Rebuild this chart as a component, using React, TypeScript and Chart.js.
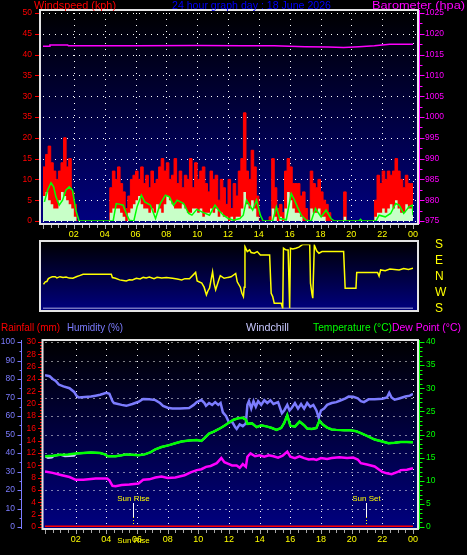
import React, { useEffect, useLayoutEffect, useRef } from "react";
import { Chart, registerables } from "chart.js";

Chart.register(...registerables);

const FONT = '"Liberation Sans", Arial, sans-serif';

// ------------------------------------------------------------------ data
const graphTitle = "24 hour graph day : 18 June 2026";
const hourTicks = [2, 4, 6, 8, 10, 12, 14, 16, 18, 20, 22, 24];

// wind speed (kph), one value per 10-minute sample from 00:00
const windSampleMinutes = 10;
const windGust = [
  10, 13, 16, 18, 14, 12,
  10, 12, 14, 20, 13, 15,
  7, 4, 0, 0, 0, 0,
  0, 0, 0, 0, 0, 0,
  0, 0, 0, 8, 12, 10,
  13, 9, 7, 3, 6, 10,
  11, 12, 10, 13, 9, 11,
  8, 12, 9, 10, 13, 15,
  12, 14, 10, 11, 15, 9,
  12, 8, 11, 10, 15, 8,
  14, 10, 12, 13, 9, 7,
  12, 10, 11, 5, 10, 8,
  4, 10, 3, 9, 6, 12,
  15, 26, 12, 10, 17, 13,
  6, 0, 0, 0, 0, 1,
  15, 8, 3, 4, 2, 12,
  15, 13, 9, 9, 9, 6,
  7, 3, 0, 12, 9, 8,
  10, 7, 5, 4, 2, 0,
  0, 0, 0, 0, 7, 0,
  0, 0, 0, 0, 0, 0,
  0, 0, 0, 0, 5, 11,
  9, 12, 10, 12, 11, 12,
  15, 12, 10, 8, 11, 9,
];
const windAverage = [
  3, 6, 7, 5, 4, 3,
  3, 5, 7, 6, 5, 4,
  3, 1, 0, 0, 0, 0,
  0, 0, 0, 0, 0, 0,
  0, 0, 0, 2, 3, 3,
  3, 2, 1, 0, 2, 3,
  4, 5, 6, 4, 3, 3,
  2, 3, 2, 4, 3, 2,
  4, 6, 5, 4, 3, 3,
  3, 4, 3, 2, 2, 3,
  3, 2, 3, 1, 2, 2,
  3, 2, 3, 1, 2, 1,
  1, 0, 1, 0, 1, 1,
  3, 7, 4, 3, 5, 3,
  1, 0, 0, 0, 0, 0,
  3, 1, 0, 1, 0, 3,
  7, 5, 3, 2, 2, 1,
  0, 0, 0, 3, 2, 2,
  3, 1, 1, 0, 0, 0,
  0, 0, 0, 0, 1, 0,
  0, 0, 0, 0, 0, 0,
  0, 0, 0, 0, 1, 2,
  2, 3, 2, 3, 4, 3,
  5, 3, 2, 2, 4, 3,
];
// [hour, kph]
const windAverageLine: [number, number][] = [
  [0.09, 4.6], [0.3, 7.4], [0.52, 9.2], [0.69, 8.2], [0.84, 5.8], [1.05, 3.8], [1.27, 5], [1.48, 7.4],
  [1.7, 8.2], [1.91, 7.4], [2.13, 2.6], [2.34, 0], [4.55, 0], [4.75, 4.2], [5.0, 4.0], [5.2, 3.8],
  [5.4, 1.8], [5.6, 0.2], [5.89, 0], [6.1, 3.4], [6.38, 6.2], [6.6, 4.6], [6.97, 3.8], [7.3, 0.6],
  [7.61, 4.2], [7.94, 6.2], [8.2, 5.8], [8.47, 3.8], [8.7, 5], [9.12, 4.2], [9.45, 1.8], [9.66, 1.4],
  [9.98, 2.8], [10.3, 2.2], [10.8, 1.4], [11.16, 3.8], [11.4, 2.6], [11.7, 1.4], [12.02, 0.6],
  [12.35, 0.2], [12.77, 0.6], [12.99, 1.4], [13.2, 5], [13.4, 3.8], [13.6, 2.6], [13.85, 5],
  [14.1, 1.4], [14.28, 0], [14.9, 0], [15.14, 3.4], [15.35, 0.6], [15.78, 0.3], [16.1, 6.6],
  [16.32, 5], [16.5, 3.4], [16.75, 1.4], [17.07, 0.2], [17.4, 0], [17.67, 3], [18.04, 1],
  [18.36, 2.6], [18.68, 0.6], [18.9, 0], [20.5, 0], [20.6, 0.4], [20.7, 0], [21.6, 0], [21.8, 1.4],
  [22.2, 1], [22.55, 1.8], [22.88, 4.2], [23.1, 3.8], [23.4, 1.8], [23.74, 3.4], [23.95, 3.8], [24, 1.4],
];
const speedTicks = [0, 5, 10, 15, 20, 25, 30, 35, 40, 45, 50];
const speedTickLabels = ["0", "5", "10", "15", "20", "35", "30", "35", "40", "45", "50"];

// barometer (hpa) [hour, value]
const barometer: [number, number][] = [
  [0, 1017.0], [0.4, 1017.0], [0.45, 1017.3], [1.6, 1017.3], [1.65, 1017.1], [6, 1017.1],
  [10, 1017.2], [13, 1017.1], [15, 1017.1], [17, 1016.9], [18.5, 1016.8], [19.5, 1016.7],
  [20.5, 1016.9], [21.5, 1017.1], [22, 1017.3], [22.5, 1017.5], [24, 1017.5],
];
const baroTicks = [975, 980, 985, 990, 995, 1000, 1005, 1010, 1015, 1020, 1025];

// wind direction, degrees (N = 0, E = 90, S = +/-180, W = -90) [hour, deg]
const windDirection: [number, number][] = [
  [0.03, -44], [0.15, -30], [0.25, -28], [0.35, -12], [0.46, -6], [0.6, -2], [0.79, -1], [0.9, -8],
  [1.1, -1], [1.3, -6], [1.5, -3], [1.7, -9], [1.94, -10], [2.2, 0], [2.37, 5], [2.6, 12], [4.43, 12],
  [4.5, -6], [4.7, -10], [4.97, -19], [5.2, -22], [5.4, -25], [5.6, -18], [5.8, -20], [6.05, -10],
  [6.3, -14], [6.5, -5], [6.7, -8], [6.9, -3], [7.2, -12], [7.4, -4], [7.7, -8], [8.0, -6], [8.4, -10],
  [8.7, -14], [9.0, -19], [9.2, -12], [9.5, -13], [9.9, 23], [10.0, -25], [10.3, -37], [10.45, -60],
  [10.6, -103], [10.7, -80], [10.8, -66], [11.0, 27], [11.1, -40], [11.2, -75], [11.4, -20], [11.5, 5],
  [11.75, -10], [12.0, -5], [12.2, -2], [12.5, 17], [12.6, -30], [12.8, -60], [12.9, -94], [13.0, -113],
  [13.05, -60], [13.1, 168], [13.25, 140], [13.4, 150], [13.5, 135], [13.7, 131], [13.9, 140], [14.1, 121],
  [14.7, 121], [14.8, -94], [14.9, -113], [15.0, -150], [15.45, -150], [15.55, -179], [15.6, 159],
  [15.75, 150], [15.9, 149], [16.0, -179], [16.05, 159], [16.2, 155], [16.4, 159], [16.6, 165],
  [16.85, 180], [17.3, 180], [17.35, -37], [17.45, -100], [17.5, -122], [17.6, 176], [17.75, 145],
  [17.9, 131], [18.1, 140], [18.4, 140], [19.5, 140], [19.6, -66], [20.3, -66], [20.35, 23], [21.7, 23],
  [21.8, 2], [21.9, 37], [22.2, 33], [22.5, 42], [22.8, 40], [23.1, 37], [23.4, 45], [23.7, 40], [24, 46],
];
const directionBase: [number, number][] = [[0, -180], [24, -180]];
const dirTickValues = [-180, -90, 0, 90, 180];
const dirTickLabels = ["S", "W", "N", "E", "S"];

// humidity (%) [hour, value]
const humidity: [number, number][] = [
  [0, 82], [0.3, 81.5], [0.5, 80], [0.7, 79], [0.9, 77], [1.2, 76], [1.6, 75], [1.9, 73], [2.05, 71],
  [2.2, 70], [2.6, 70.3], [3.0, 70.5], [3.3, 71], [3.6, 71.5], [4.0, 72.5], [4.2, 72], [4.4, 68],
  [4.5, 67], [5.0, 66], [5.3, 65.5], [5.7, 66.5], [6.1, 67.7], [6.4, 69.2], [6.8, 69], [7.2, 68.6],
  [7.5, 67], [7.7, 65.5], [8.0, 64.5], [8.3, 64], [8.8, 64], [9.4, 64.3], [9.7, 66], [9.9, 67.5],
  [10.2, 68.6], [10.4, 67], [10.5, 65.5], [10.7, 67], [10.9, 66], [11.1, 67.5], [11.3, 66],
  [11.45, 67], [11.6, 62], [11.8, 60], [12.0, 56.5], [12.2, 57], [12.4, 54], [12.5, 53], [12.7, 55.5],
  [12.9, 54.5], [13.1, 56], [13.2, 66], [13.3, 68], [13.45, 64], [13.6, 68], [13.75, 65], [13.9, 68],
  [14.1, 66], [14.3, 68.5], [14.5, 67], [14.7, 68.5], [14.9, 66.5], [15.2, 67.5], [15.45, 61.5],
  [15.6, 63], [15.8, 66], [15.95, 63], [16.1, 64.5], [16.3, 67], [16.5, 64], [16.7, 66.5], [16.9, 64],
  [17.1, 67], [17.3, 65], [17.5, 66], [17.7, 63], [17.85, 59], [18.0, 63], [18.2, 64], [18.4, 66],
  [18.7, 67], [19.0, 67.5], [19.3, 68.5], [19.6, 69.5], [19.8, 70.5], [20.1, 70.4], [20.4, 69.5],
  [20.6, 68], [20.8, 67.5], [21.1, 69], [21.5, 69], [22.0, 69.3], [22.3, 70], [22.45, 72.5], [22.6, 70],
  [22.8, 68.8], [23.1, 69.5], [23.5, 70.5], [23.8, 71], [24, 72],
];
// temperature (C) [hour, value]
const temperature: [number, number][] = [
  [0, 15.3], [0.5, 15.4], [1, 15.6], [1.5, 15.7], [2, 15.9], [2.5, 16.0], [3, 16.1], [3.6, 16.0],
  [3.9, 15.7], [4.1, 15.3], [4.6, 15.3], [5.0, 15.5], [5.3, 15.7], [5.7, 15.6], [6.1, 15.5], [6.5, 15.7],
  [6.9, 16.2], [7.2, 16.8], [7.6, 17.3], [8.1, 17.7], [8.5, 18.1], [8.9, 18.5], [9.4, 18.7], [9.9, 18.8],
  [10.2, 18.6], [10.4, 19.2], [10.7, 20.2], [11.0, 20.6], [11.4, 21.3], [11.7, 21.9], [12.0, 22.6],
  [12.3, 23.2], [12.6, 23.5], [12.9, 23.6], [13.1, 23.2], [13.2, 22.3], [13.5, 22.4], [13.8, 21.6],
  [14.1, 22.0], [14.5, 21.7], [14.8, 21.4], [15.1, 21.0], [15.4, 21.4], [15.6, 22.5], [15.8, 24.2],
  [16.0, 21.9], [16.3, 21.7], [16.6, 22.8], [16.9, 22.0], [17.1, 21.3], [17.4, 21.2], [17.7, 21.4],
  [17.9, 23.0], [18.1, 22.2], [18.4, 21.5], [18.7, 21.1], [19.0, 21.0], [19.5, 20.9], [19.9, 20.9],
  [20.3, 20.7], [20.6, 20.3], [21.0, 19.7], [21.5, 18.9], [22.0, 18.5], [22.4, 18.1], [22.8, 18.2],
  [23.2, 18.4], [23.6, 18.4], [24, 18.3],
];
// windchill (C) [hour, value]
const windchill: [number, number][] = [
  [0, 15.3], [0.2, 14.9], [0.45, 15.0], [0.6, 15.4], [1, 15.6], [1.3, 15.3], [1.9, 15.4], [2.05, 15.9],
  [2.5, 16.0], [3, 16.1], [3.6, 16.0], [3.9, 15.7], [4.1, 15.3], [4.6, 15.3], [5.0, 15.5], [5.3, 15.7],
  [5.7, 15.6], [6.1, 15.5], [6.5, 15.7], [6.9, 16.2], [7.2, 16.8], [7.6, 17.3], [8.1, 17.7], [8.5, 18.1],
  [8.9, 18.5], [9.4, 18.7], [9.9, 18.8], [10.2, 18.6], [10.4, 19.2], [10.7, 20.2], [11.0, 20.6],
  [11.4, 21.3], [11.7, 21.9], [12.0, 22.6], [12.3, 23.2], [12.6, 23.5], [12.9, 23.6], [13.1, 23.2],
  [13.2, 22.3], [13.5, 22.4], [13.8, 21.6], [14.1, 22.0], [14.5, 21.7], [14.8, 21.4], [15.1, 21.0],
  [15.4, 21.4], [15.6, 22.5], [15.8, 24.2], [16.0, 21.9], [16.3, 21.7], [16.6, 22.8], [16.9, 22.0],
  [17.1, 21.3], [17.4, 21.2], [17.7, 21.4], [17.9, 23.0], [18.1, 22.2], [18.4, 21.5], [18.7, 21.1],
  [19.0, 21.0], [19.5, 20.9], [19.9, 20.9], [20.3, 20.7], [20.6, 20.3], [21.0, 19.7], [21.5, 18.9],
  [22.0, 18.5], [22.4, 18.1], [22.8, 18.2], [23.2, 18.4], [23.6, 18.4], [24, 18.3],
];
// dew point (C) [hour, value]
const dewPoint: [number, number][] = [
  [0, 12.0], [0.5, 11.7], [1.1, 11.2], [1.6, 10.8], [2.0, 10.2], [2.5, 10.2], [3.0, 10.4], [3.3, 10.5],
  [4.05, 10.5], [4.2, 10.1], [4.4, 8.9], [4.6, 8.8], [5.0, 9.1], [5.5, 9.2], [6.1, 9.4], [6.4, 10.2],
  [6.8, 10.3], [7.2, 10.7], [7.6, 10.9], [8.0, 10.6], [8.5, 10.7], [9.1, 11.2], [9.5, 11.8], [9.9, 12.3],
  [10.2, 12.5], [10.5, 13.0], [10.8, 13.2], [11.2, 13.8], [11.5, 14.9], [11.7, 14.0], [12.0, 13.6],
  [12.2, 13.3], [12.5, 13.3], [12.7, 12.8], [12.9, 13.6], [13.1, 13.0], [13.2, 15.2], [13.4, 15.9],
  [13.7, 15.3], [14.0, 15.5], [14.3, 15.2], [14.6, 15.5], [14.9, 15.3], [15.2, 15.0], [15.5, 15.4],
  [15.8, 16.3], [16.0, 15.2], [16.3, 14.9], [16.6, 15.3], [16.9, 14.9], [17.2, 14.6], [17.5, 14.7],
  [17.7, 14.5], [18.0, 14.9], [18.4, 14.7], [18.7, 14.9], [19.2, 15.1], [19.7, 14.9], [20.1, 15.0],
  [20.4, 14.6], [20.6, 13.8], [21.0, 13.5], [21.5, 13.1], [21.8, 12.4], [22.0, 11.9], [22.3, 11.6],
  [22.6, 11.4], [23.0, 11.9], [23.2, 12.3], [23.6, 12.4], [24, 12.7],
];
// rainfall (mm) [hour, value]
const rainfall: [number, number][] = [[0, 0], [24, 0]];

const humidityTicks = [0, 10, 20, 30, 40, 50, 60, 70, 80, 90, 100];
const rainTicks = [0, 2, 4, 6, 8, 10, 12, 14, 16, 18, 20, 22, 24, 26, 28, 30];
const tempTicks = [0, 5, 10, 15, 20, 25, 30, 35, 40];

const sunRiseHour = 5.77;
const sunSetHour = 20.96;

// ------------------------------------------------------------------ helpers
const pts = (a: [number, number][]) => a.map(([x, y]) => ({ x, y }));
const stepPts = (vals: number[]) => {
  const out = vals.map((v, i) => ({ x: (i * windSampleMinutes) / 60, y: v }));
  out.push({ x: 24, y: vals[vals.length - 1] });
  return out;
};
const hh = (v: number) => String(Math.round(v) % 24).padStart(2, "0");
const plain = (v: any) => String(Number(v));

type AxisMarks = {
  scale: string; x: number; dir: number; color: string;
  major: number[]; majorLen: number; minorStep?: number; minorLen?: number; line?: boolean;
};
type FrameCfg = {
  id: string;
  frame: [number, number, number, number];
  gridScale?: string;
  gridValues?: number[];
  gridHours?: number[];
  axes?: AxisMarks[];
  xTickStep?: number;
  extra?: (chart: any) => void;
};

function framePlugin(cfg: FrameCfg) {
  const box = (chart: any) => {
    const a = chart.chartArea;
    return { L: a.left - cfg.frame[0], T: a.top - cfg.frame[1], R: a.right + cfg.frame[2], B: a.bottom + cfg.frame[3] };
  };
  return {
    id: cfg.id,
    beforeDraw(chart: any) {
      const ctx = chart.ctx;
      const { L, T, R, B } = box(chart);
      ctx.save();
      const g = ctx.createLinearGradient(0, T, 0, B);
      g.addColorStop(0, "#000000");
      g.addColorStop(1, "#000080");
      ctx.fillStyle = g;
      ctx.fillRect(L, T, R - L, B - T);
      ctx.strokeStyle = "#ffffff";
      ctx.lineWidth = 1;
      ctx.setLineDash([1, 5]);
      if (cfg.gridScale && cfg.gridValues) {
        const s = chart.scales[cfg.gridScale];
        for (const v of cfg.gridValues) {
          const y = Math.round(s.getPixelForValue(v)) + 0.5;
          ctx.beginPath(); ctx.moveTo(L + 3, y); ctx.lineTo(R - 2, y); ctx.stroke();
        }
      }
      if (cfg.gridHours) {
        const s = chart.scales.x;
        for (const h of cfg.gridHours) {
          const x = Math.round(s.getPixelForValue(h)) + 0.5;
          ctx.beginPath(); ctx.moveTo(x, T + 3); ctx.lineTo(x, B - 2); ctx.stroke();
        }
      }
      ctx.restore();
    },
    afterDraw(chart: any) {
      const ctx = chart.ctx;
      const { L, T, R, B } = box(chart);
      ctx.save();
      ctx.setLineDash([]);
      ctx.lineWidth = 1;
      for (const ax of cfg.axes || []) {
        const s = chart.scales[ax.scale];
        ctx.strokeStyle = ax.color;
        if (ax.line) {
          ctx.beginPath(); ctx.moveTo(ax.x, T); ctx.lineTo(ax.x, B); ctx.stroke();
        }
        const tick = (v: number, len: number) => {
          const y = Math.round(s.getPixelForValue(v)) + 0.5;
          ctx.beginPath(); ctx.moveTo(ax.x, y); ctx.lineTo(ax.x + ax.dir * len, y); ctx.stroke();
        };
        if (ax.minorStep) {
          for (let v = s.min; v <= s.max + 1e-9; v += ax.minorStep) tick(v, ax.minorLen || 2);
        }
        for (const v of ax.major) tick(v, ax.majorLen);
      }
      if (cfg.xTickStep) {
        const s = chart.scales.x;
        ctx.strokeStyle = "#a8a8a8";
        for (let h = 0; h <= 24 + 1e-9; h += cfg.xTickStep) {
          const x = Math.round(s.getPixelForValue(h)) + 0.5;
          const major = Math.abs(h / 2 - Math.round(h / 2)) < 1e-6;
          ctx.beginPath(); ctx.moveTo(x, B + 1); ctx.lineTo(x, B + (major ? 5 : 4)); ctx.stroke();
        }
      }
      ctx.strokeStyle = "#e4e4e4";
      ctx.lineWidth = 2;
      ctx.strokeRect(L, T, R - L, B - T);
      if (cfg.extra) cfg.extra(chart);
      ctx.restore();
    },
  };
}

const tickFont = { family: FONT, size: 8.5 };
const hourFont = { family: FONT, size: 9 };
// invisible tick marks: only used to set the gap between axis and labels
const gap = (len: number) => ({ display: false, drawOnChartArea: false, drawTicks: true, tickLength: len, color: "rgba(0,0,0,0)" });

function hourAxis(height: number, tickLen: number) {
  return {
    type: "linear",
    min: 0,
    max: 24,
    afterBuildTicks: (s: any) => { s.ticks = hourTicks.map((v) => ({ value: v })); },
    afterFit: (s: any) => { s.height = height; },
    ticks: { color: "#ffff00", font: hourFont, padding: 2, autoSkip: false, maxRotation: 0, callback: (v: any) => hh(Number(v)) },
    grid: gap(tickLen),
    border: { display: false },
  };
}

// ------------------------------------------------------------------ chart configs
function windConfig(): any {
  return {
    type: "line",
    data: {
      datasets: [
        { label: "Barometer", data: pts(barometer), yAxisID: "y1", borderColor: "#ff00ff", borderWidth: 1.5, pointRadius: 0, fill: false },
        { label: "Average", data: pts(windAverageLine), yAxisID: "y", borderColor: "#00ff00", borderWidth: 1.5, pointRadius: 0, fill: false },
        { label: "Wind", data: stepPts(windAverage), yAxisID: "y", stepped: "after", borderColor: "#c8ffc8", backgroundColor: "#c8ffc8", borderWidth: 0, pointRadius: 0, fill: "origin" },
        { label: "Gust", data: stepPts(windGust), yAxisID: "y", stepped: "after", borderColor: "#ff0000", backgroundColor: "#ff0000", borderWidth: 1, pointRadius: 0, fill: "origin" },
      ],
    },
    options: {
      animation: false,
      responsive: false,
      events: [],
      layout: { padding: { top: 13, left: 0, right: 0, bottom: 0 } },
      plugins: { legend: { display: false }, tooltip: { enabled: false } },
      scales: {
        x: hourAxis(24, 6),
        y: {
          position: "left", min: 0, max: 50,
          afterBuildTicks: (s: any) => { s.ticks = speedTicks.map((v) => ({ value: v })); },
          afterFit: (s: any) => { s.width = 43; },
          ticks: { color: "#ff0000", font: tickFont, padding: 2, autoSkip: false,
            callback: (v: any) => speedTickLabels[speedTicks.indexOf(Number(v))] },
          grid: gap(9), border: { display: false },
        },
        y1: {
          position: "right", min: 975, max: 1025,
          afterBuildTicks: (s: any) => { s.ticks = baroTicks.map((v) => ({ value: v })); },
          afterFit: (s: any) => { s.width = 54; },
          ticks: { color: "#ff00ff", font: tickFont, padding: 2, autoSkip: false, callback: plain },
          grid: gap(10), border: { display: false },
        },
      },
    },
    plugins: [
      framePlugin({
        id: "windFrame",
        frame: [3, 3, 5, 3],
        gridScale: "y",
        gridValues: speedTicks,
        gridHours: hourTicks,
        xTickStep: 0.5,
        axes: [
          { scale: "y", x: 39, dir: -1, color: "#ff0000", major: speedTicks, majorLen: 4 },
          { scale: "y1", x: 419.5, dir: 1, color: "#ff00ff", major: baroTicks, majorLen: 5, minorStep: 2.5, minorLen: 3, line: true },
        ],
      }),
    ],
  };
}

function directionConfig(): any {
  return {
    type: "line",
    data: {
      datasets: [
        { label: "Direction", data: pts(windDirection), borderColor: "#ffff00", borderWidth: 1.5, pointRadius: 0, fill: false },
        { label: "Base", data: pts(directionBase), borderColor: "#e8e8ff", borderWidth: 1.5, pointRadius: 0, fill: false },
      ],
    },
    options: {
      animation: false,
      responsive: false,
      events: [],
      layout: { padding: { top: 14.5, left: 43, right: 0, bottom: 11.5 } },
      plugins: { legend: { display: false }, tooltip: { enabled: false } },
      scales: {
        x: { type: "linear", min: 0, max: 24, display: false },
        y: {
          position: "right", min: -180, max: 180,
          afterBuildTicks: (s: any) => { s.ticks = dirTickValues.map((v) => ({ value: v })); },
          afterFit: (s: any) => { s.width = 54; },
          ticks: { color: "#ffff00", font: { family: FONT, size: 12 }, padding: 2, autoSkip: false,
            callback: (v: any) => dirTickLabels[dirTickValues.indexOf(Number(v))] },
          grid: gap(20), border: { display: false },
        },
      },
    },
    plugins: [framePlugin({ id: "dirFrame", frame: [3, 3.5, 5, 2.5] })],
  };
}

function climateConfig(): any {
  const sunMarks = (chart: any) => {
    const ctx = chart.ctx;
    const s = chart.scales.x;
    const a = chart.chartArea;
    ctx.font = `8px ${FONT}`;
    ctx.textAlign = "center";
    ctx.textBaseline = "alphabetic";
    const marks: [number, string, boolean][] = [[sunRiseHour, "Sun Rise", true], [sunSetHour, "Sun Set", false]];
    for (const [h, name, dup] of marks) {
      const x = Math.round(s.getPixelForValue(h)) + 0.5;
      ctx.fillStyle = "#ffff00";
      ctx.fillText(name, x, a.bottom - 26);
      if (dup) ctx.fillText(name, x, a.bottom + 15.5);
      ctx.lineWidth = 1;
      ctx.setLineDash([]);
      ctx.strokeStyle = "#ffffff";
      ctx.beginPath(); ctx.moveTo(x, a.bottom - 24); ctx.lineTo(x, a.bottom - 10); ctx.stroke();
      ctx.strokeStyle = "#ffff00";
      ctx.setLineDash([1, 2]);
      ctx.beginPath(); ctx.moveTo(x, a.bottom - 10); ctx.lineTo(x, a.bottom - 2); ctx.stroke();
      ctx.setLineDash([]);
    }
  };
  return {
    type: "line",
    data: {
      datasets: [
        { label: "Rainfall", data: pts(rainfall), yAxisID: "yR", borderColor: "#ff0000", borderWidth: 3, pointRadius: 0, fill: false },
        { label: "Dew Point", data: pts(dewPoint), yAxisID: "yT", borderColor: "#ff00ff", borderWidth: 2.5, pointRadius: 0, fill: false },
        { label: "Temperature", data: pts(temperature), yAxisID: "yT", borderColor: "#00ff00", borderWidth: 2.5, pointRadius: 0, fill: false },
        { label: "Windchill", data: pts(windchill), yAxisID: "yT", borderColor: "#c8c8ff", borderWidth: 2, pointRadius: 0, fill: false },
        { label: "Humidity", data: pts(humidity), yAxisID: "yH", borderColor: "#7c7cff", borderWidth: 2.5, pointRadius: 0, fill: false },
      ],
    },
    options: {
      animation: false,
      responsive: false,
      events: [],
      layout: { padding: { top: 24, left: 0, right: 0, bottom: 0 } },
      plugins: { legend: { display: false }, tooltip: { enabled: false } },
      scales: {
        x: hourAxis(28, 5),
        yH: {
          position: "left", weight: 1, min: 0, max: 100,
          afterBuildTicks: (s: any) => { s.ticks = humidityTicks.map((v) => ({ value: v })); },
          afterFit: (s: any) => { s.width = 22; },
          ticks: { color: "#7c7cff", font: tickFont, padding: 2, autoSkip: false, callback: plain },
          grid: gap(5), border: { display: false },
        },
        yR: {
          position: "left", weight: 0, min: 0, max: 30,
          afterBuildTicks: (s: any) => { s.ticks = rainTicks.map((v) => ({ value: v })); },
          afterFit: (s: any) => { s.width = 23; },
          ticks: { color: "#ff0000", font: tickFont, padding: 2, autoSkip: false, callback: plain },
          grid: gap(7), border: { display: false },
        },
        yT: {
          position: "right", min: 0, max: 40,
          afterBuildTicks: (s: any) => { s.ticks = tempTicks.map((v) => ({ value: v })); },
          afterFit: (s: any) => { s.width = 54; },
          ticks: { color: "#00ff00", font: tickFont, padding: 2, autoSkip: false, callback: plain },
          grid: gap(11), border: { display: false },
        },
      },
    },
    plugins: [
      framePlugin({
        id: "climateFrame",
        frame: [2.5, 2, 5, 2],
        gridScale: "yH",
        gridValues: humidityTicks.slice(1),
        gridHours: hourTicks,
        xTickStep: 0.5,
        axes: [
          { scale: "yH", x: 21.5, dir: -1, color: "#7c7cff", major: humidityTicks, majorLen: 4, minorStep: 5, minorLen: 2, line: true },
          { scale: "yR", x: 42, dir: -1, color: "#ff0000", major: rainTicks, majorLen: 4, minorStep: 0.5, minorLen: 2 },
          { scale: "yT", x: 419.5, dir: 1, color: "#00ff00", major: tempTicks, majorLen: 5, minorStep: 1, minorLen: 3, line: true },
        ],
        extra: sunMarks,
      }),
    ],
  };
}

// ------------------------------------------------------------------ components
function ChartCanvas({ make, top, height }: { make: () => any; top: number; height: number }) {
  const ref = useRef<HTMLCanvasElement>(null);
  useEffect(() => {
    const chart = new Chart(ref.current as HTMLCanvasElement, make());
    return () => chart.destroy();
  }, []);
  return (
    <canvas
      ref={ref}
      width={467}
      height={height}
      style={{ position: "absolute", left: 0, top, width: 467, height, display: "block" }}
    />
  );
}

function FitText({ text, x, w, baseline, color, size = 10.5 }: { text: string; x: number; w: number; baseline: number; color: string; size?: number }) {
  const ref = useRef<HTMLSpanElement>(null);
  useLayoutEffect(() => {
    const el = ref.current;
    if (!el) return;
    const fit = () => {
      el.style.transform = "none";
      const natural = el.getBoundingClientRect().width;
      if (natural > 0) el.style.transform = `scaleX(${w / natural})`;
    };
    fit();
    if ((document as any).fonts && (document as any).fonts.ready) (document as any).fonts.ready.then(fit);
  }, [w]);
  return (
    <span
      ref={ref}
      style={{
        position: "absolute",
        left: x,
        top: baseline - 0.8465 * size,
        fontFamily: FONT,
        fontSize: size,
        lineHeight: `${size}px`,
        color,
        whiteSpace: "nowrap",
        transformOrigin: "0 0",
      }}
    >
      {text}
    </span>
  );
}

export default function App() {
  return (
    <div style={{ position: "absolute", left: 0, top: 0, width: 467, height: 555, background: "#000000", overflow: "hidden" }}>
      <ChartCanvas make={windConfig} top={0} height={245} />
      <ChartCanvas make={directionConfig} top={230} height={90} />
      <ChartCanvas make={climateConfig} top={318} height={237} />
      <FitText text="Windspeed (kph)" x={34} w={82} baseline={8.7} color="#ff0000" />
      <FitText text={graphTitle} x={172} w={159} baseline={8.7} color="#0000ff" />
      <FitText text="Barometer (hpa)" x={372} w={93} baseline={8.7} color="#ff00ff" />
      <FitText text="Rainfall (mm)" x={1} w={59} baseline={330.7} color="#ff0000" />
      <FitText text="Humidity (%)" x={67} w={56} baseline={330.7} color="#7c7cff" />
      <FitText text="Windchill" x={246} w={43} baseline={330.7} color="#c8c8ff" />
      <FitText text="Temperature (°C)" x={313} w={79} baseline={330.7} color="#00ff00" />
      <FitText text="Dew Point (°C)" x={392} w={69} baseline={330.7} color="#ff00ff" />
    </div>
  );
}
